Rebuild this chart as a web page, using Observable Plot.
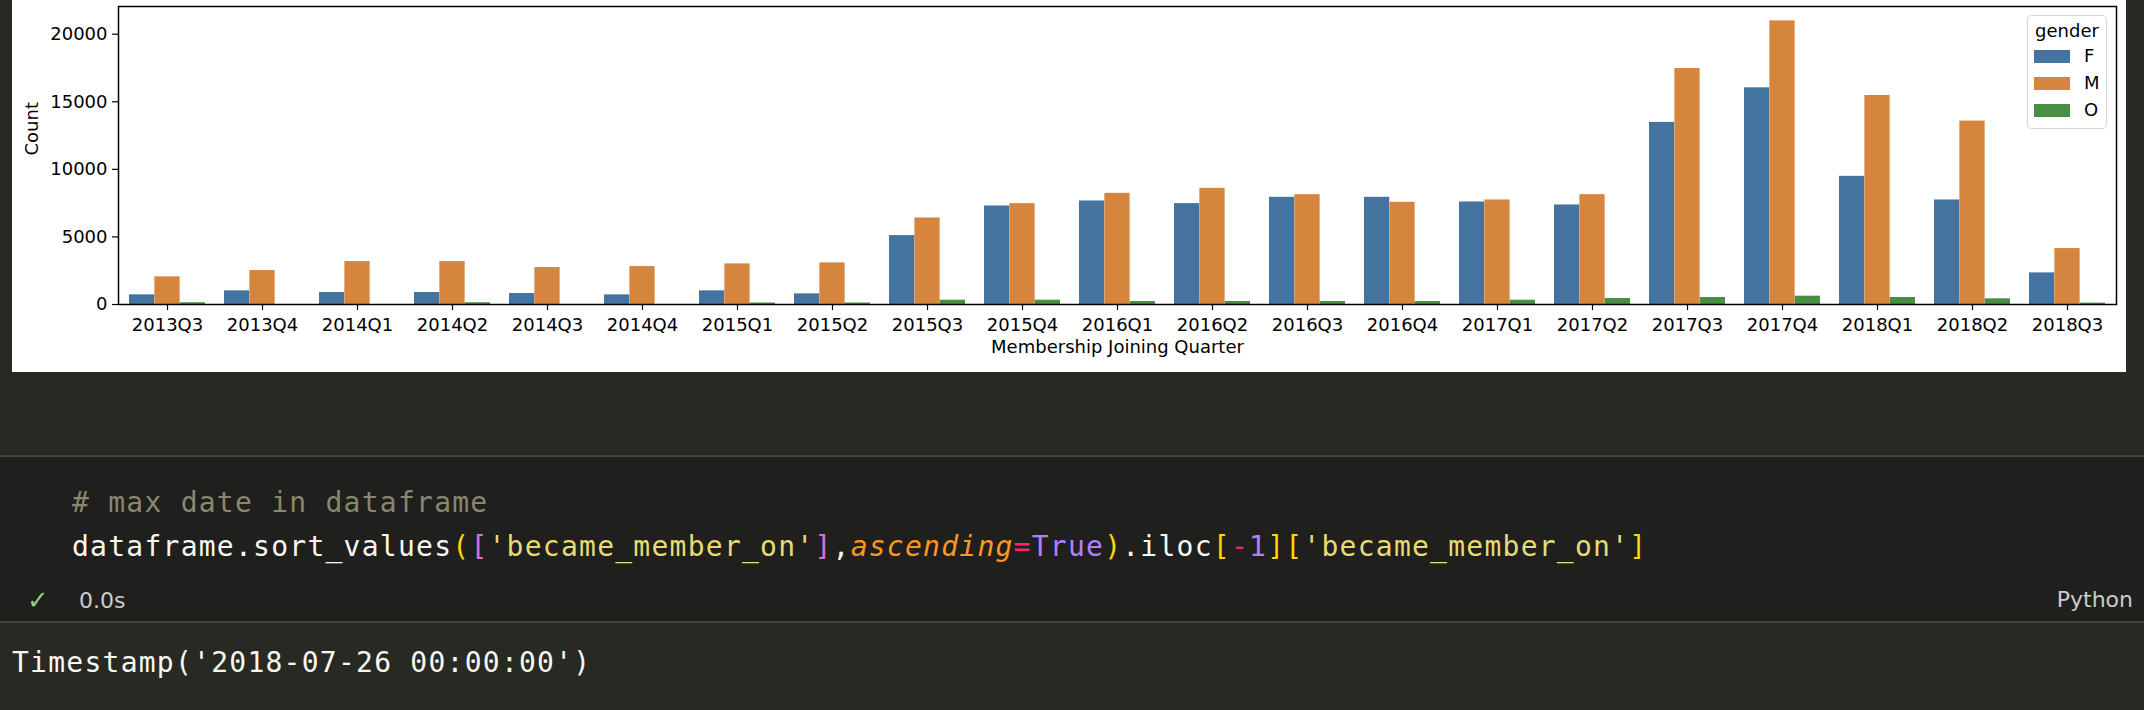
<!DOCTYPE html>
<html>
<head>
<meta charset="utf-8">
<script src="https://cdn.jsdelivr.net/npm/d3@7"></script>
<script src="https://cdn.jsdelivr.net/npm/@observablehq/plot@0.6"></script>
<style>
  html, body { margin: 0; padding: 0; }
  body { width: 2144px; height: 710px; background: #282923; position: relative; overflow: hidden; }
  #chart { position: absolute; left: 12px; top: 0; }
  .abs { position: absolute; }
  .mono { font-family: "DejaVu Sans Mono", monospace; font-size: 28px; letter-spacing: 1.25px; white-space: pre; line-height: 40px; }
  .sans { font-family: "DejaVu Sans", sans-serif; }
  #legend { position: absolute; left: 2027px; top: 15px; width: 80px; height: 114px; box-sizing: border-box;
            border: 1px solid #d6d6d6; border-radius: 4px; background: rgba(255,255,255,0.85);
            font-family: "DejaVu Sans", sans-serif; font-size: 18px; color: #000; }
</style>
</head>
<body>
<div id="chart"></div>
<div id="legend"></div>

<div class="abs" style="left:0;top:455px;width:2144px;height:2px;background:#45453c"></div>
<div class="abs" style="left:0;top:457px;width:2144px;height:164px;background:#1f1f1d"></div>
<div class="abs" style="left:0;top:621px;width:2144px;height:2px;background:#45453c"></div>

<div class="abs mono" style="left:72px;top:483px;color:#8a866f"># max date in dataframe</div>
<div class="abs mono" style="left:72px;top:527px;color:#f8f8f2">dataframe.sort_values<span style="color:#ffd700">(</span><span style="color:#da70d6">[</span><span style="color:#e6db74">'became_member_on'</span><span style="color:#da70d6">]</span>,<span style="color:#fd971f;font-style:italic">ascending</span><span style="color:#f92672">=</span><span style="color:#ae81ff">True</span><span style="color:#ffd700">)</span>.iloc<span style="color:#ffd700">[</span><span style="color:#f92672">-</span><span style="color:#ae81ff">1</span><span style="color:#ffd700">]</span><span style="color:#ffd700">[</span><span style="color:#e6db74">'became_member_on'</span><span style="color:#ffd700">]</span></div>
<div class="abs sans" style="left:27px;top:585px;line-height:30px;font-size:26px;color:#89d185">✓</div>
<div class="abs sans" style="left:79px;top:586px;line-height:30px;font-size:22px;color:#cccccc">0.0s</div>
<div class="abs sans" style="right:11px;top:585px;line-height:30px;font-size:22px;color:#cccccc">Python</div>
<div class="abs mono" style="left:12px;top:643px;color:#f8f8f2">Timestamp('2018-07-26 00:00:00')</div>

<script>
const quarters = ["2013Q3","2013Q4","2014Q1","2014Q2","2014Q3","2014Q4","2015Q1","2015Q2","2015Q3","2015Q4","2016Q1","2016Q2","2016Q3","2016Q4","2017Q1","2017Q2","2017Q3","2017Q4","2018Q1","2018Q2","2018Q3"];
const genders = ["F", "M", "O"];
const countF = [714, 1010, 887, 887, 813, 714, 1010, 788, 5098, 7290, 7660, 7463, 7931, 7931, 7586, 7364, 13473, 16034, 9483, 7734, 2340];
const countM = [2044, 2512, 3177, 3177, 2734, 2808, 3005, 3079, 6404, 7463, 8226, 8596, 8128, 7561, 7734, 8128, 17463, 20985, 15468, 13571, 4138];
const countO = [130, 0, 0, 130, 0, 0, 110, 110, 320, 320, 222, 222, 222, 222, 320, 443, 517, 616, 517, 419, 100];
const genderColors = ["#44739f", "#d6853f", "#4a8e44"];
const yTicks = [0, 5000, 10000, 15000, 20000];
const xLabel = "Membership Joining Quarter";
const yLabel = "Count";

const series = [countF, countM, countO];
const rows = quarters.flatMap((q, i) => genders.map((g, j) => ({quarter: q, gender: g, count: series[j][i]})));

const W = 2114, H = 372, ML = 106, MR = 10, MT = 6, MB = 68;
const bw = (W - ML - MR) / quarters.length * 0.8;

const plot = Plot.plot({
  width: W, height: H,
  marginLeft: ML, marginRight: MR, marginTop: MT, marginBottom: MB,
  style: {fontFamily: "DejaVu Sans", fontSize: "18px", background: "white", color: "black", overflow: "visible"},
  x: {type: "band", domain: quarters, paddingInner: 0.2, paddingOuter: 0.1, label: null},
  y: {domain: [0, 22050], label: null},
  marks: [
    ...genders.map((g, j) => Plot.barY(rows.filter(d => d.gender === g), {
      x: "quarter", y: "count", fill: genderColors[j],
      insetLeft: j * bw / 3, insetRight: (2 - j) * bw / 3
    })),
    Plot.frame({stroke: "black", strokeWidth: 1.5}),
    Plot.axisX({tickSize: 6, tickPadding: 8, fontSize: 18, stroke: "black", strokeWidth: 1.2, fill: "black", label: null}),
    Plot.axisY({ticks: yTicks, tickSize: 6, tickPadding: 5, fontSize: 18, tickFormat: d => String(d), stroke: "black", strokeWidth: 1.2, fill: "black", label: null}),
    Plot.text([xLabel], {text: d => d, frameAnchor: "bottom", dy: 48, fontSize: 18, fill: "black"}),
    Plot.text([yLabel], {text: d => d, frameAnchor: "left", dx: -86, rotate: -90, fontSize: 18, fill: "black"})
  ]
});
document.getElementById("chart").appendChild(plot);

// legend (matplotlib-style, inside the axes)
const legend = document.getElementById("legend");
const title = document.createElement("div");
title.textContent = "gender";
title.style.cssText = "position:absolute;left:0;width:78px;top:4px;text-align:center;line-height:22px;";
legend.appendChild(title);
genders.forEach((g, j) => {
  const sw = document.createElement("div");
  sw.style.cssText = `position:absolute;left:6px;top:${34 + j * 27}px;width:36px;height:13px;background:${genderColors[j]};`;
  legend.appendChild(sw);
  const lb = document.createElement("div");
  lb.textContent = g;
  lb.style.cssText = `position:absolute;left:56px;top:${29 + j * 27}px;line-height:22px;`;
  legend.appendChild(lb);
});
</script>
</body>
</html>
